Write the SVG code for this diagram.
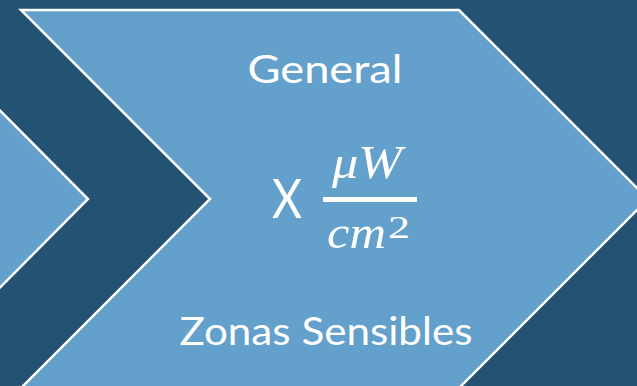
<svg xmlns="http://www.w3.org/2000/svg" width="637" height="386" viewBox="0 0 637 386">
<style>
.chev{fill:#63a0cb;stroke:#ffffff;stroke-width:2.5;stroke-linejoin:miter}
.lbl{font-family:"Lato","Liberation Sans",sans-serif;fill:#ffffff;text-anchor:middle}
.math{font-family:"Liberation Serif",serif;font-style:italic;fill:#ffffff}
</style>
<rect width="637" height="386" fill="#245273"/>
<g id="chevron-left">
<polygon class="chev" points="-538,10 -100,10 88,199 -100,388 -538,388 -349,199"/>
</g>
<g id="chevron-main">
<polygon class="chev" points="21,10 459,10 648,199 459,388 21,388 210,199"/>
<text class="lbl" x="325" y="83" font-size="38" textLength="155" lengthAdjust="spacingAndGlyphs">General</text>
<text class="lbl" x="287" y="218" font-size="54" textLength="30" lengthAdjust="spacingAndGlyphs">X</text>
<text class="math" x="367" y="178" font-size="46" text-anchor="middle" textLength="70" lengthAdjust="spacingAndGlyphs">μW</text>
<rect x="323" y="197" width="94" height="5" fill="#ffffff"/>
<text class="math" x="327" y="248" font-size="46" textLength="59" lengthAdjust="spacingAndGlyphs">cm</text>
<text x="388" y="238" font-family="Liberation Serif,serif" font-size="32" fill="#ffffff" textLength="22" lengthAdjust="spacingAndGlyphs">2</text>
<text class="lbl" x="326" y="345" font-size="38" textLength="293" lengthAdjust="spacingAndGlyphs">Zonas Sensibles</text>
</g>
<g id="connectors"></g>
</svg>
